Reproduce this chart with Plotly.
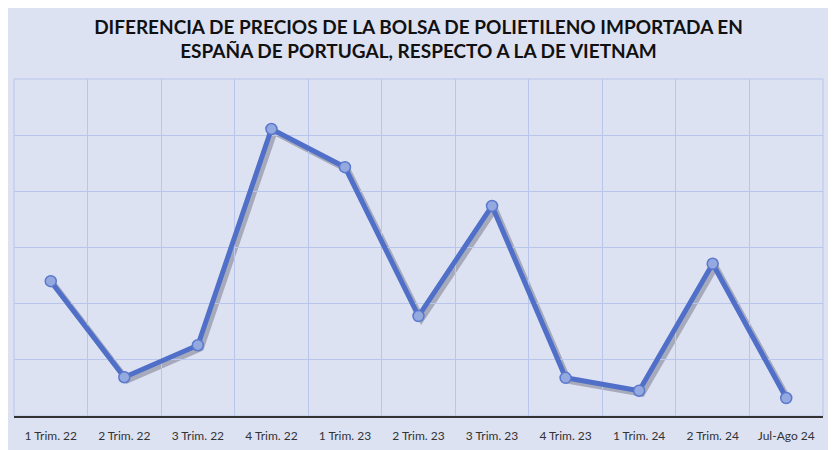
import plotly.graph_objects as go

categories = ["1 Trim. 22", "2 Trim. 22", "3 Trim. 22", "4 Trim. 22", "1 Trim. 23",
              "2 Trim. 23", "3 Trim. 23", "4 Trim. 23", "1 Trim. 24", "2 Trim. 24", "Jul-Ago 24"]
values = [2.40, 0.69, 1.26, 5.11, 4.43, 1.78, 3.74, 0.68, 0.45, 2.71, 0.32]

title_text = ("<b>DIFERENCIA DE PRECIOS DE LA BOLSA DE POLIETILENO IMPORTADA EN<br>"
              "ESPAÑA DE PORTUGAL, RESPECTO A LA DE VIETNAM</b>")

W, H = 828, 442
L, R, T, B = 6, 10, 71, 31
SH = 3  # shadow offset in px
pw = W - L - R
ph = H - T - B
dx, dy = SH / pw, SH / ph
FONT = "Lato, sans-serif"
GRID = "#b7c6ea"

fig = go.Figure()
# soft shadow under the line (offset subplot)
fig.add_trace(go.Scatter(x=categories, y=values, mode="lines",
                         line=dict(color="rgba(40,40,60,0.30)", width=6),
                         xaxis="x", yaxis="y", hoverinfo="skip", showlegend=False))
# main line
fig.add_trace(go.Scatter(x=categories, y=values, mode="lines+markers",
                         line=dict(color="#4f6fc8", width=5),
                         marker=dict(size=11, color="#93a9e0", line=dict(color="#5a78cc", width=1.5)),
                         xaxis="x2", yaxis="y2", showlegend=False))

fig.update_layout(
    width=W, height=H,
    margin=dict(l=L, r=R, t=T, b=B, autoexpand=False),
    paper_bgcolor="#dde2f3",
    plot_bgcolor="rgba(0,0,0,0)",
    title=dict(text=title_text, x=0.4958, xanchor="center", y=0.9417, yanchor="top",
               font=dict(family=FONT, size=19, color="#111111")),
    font=dict(family=FONT),
    xaxis=dict(type="category", categoryorder="array", categoryarray=categories,
               domain=[dx, 1], range=[-0.5, 10.5], visible=False, anchor="y"),
    yaxis=dict(range=[0, 6], domain=[0, 1 - dy], visible=False, anchor="x"),
    xaxis2=dict(type="category", categoryorder="array", categoryarray=categories,
                domain=[0, 1 - dx], anchor="y2",
                tickson="boundaries", showgrid=True, gridcolor=GRID, gridwidth=1,
                showline=True, linecolor="#333333", linewidth=1.5, ticks="",
                ticklabelstandoff=8,
                tickfont=dict(family=FONT, size=12, color="#333333"),
                range=[-0.5, 10.5]),
    yaxis2=dict(range=[0, 6], dtick=1, domain=[dy, 1], anchor="x2",
                showgrid=True, gridcolor=GRID, gridwidth=1,
                showticklabels=False, zeroline=False, showline=False),
    shapes=[dict(type="rect", xref="x2 domain", yref="y2 domain", x0=0, x1=1, y0=0, y1=1,
                 line=dict(color=GRID, width=1), layer="below")],
)

fig.write_html("out.html")
